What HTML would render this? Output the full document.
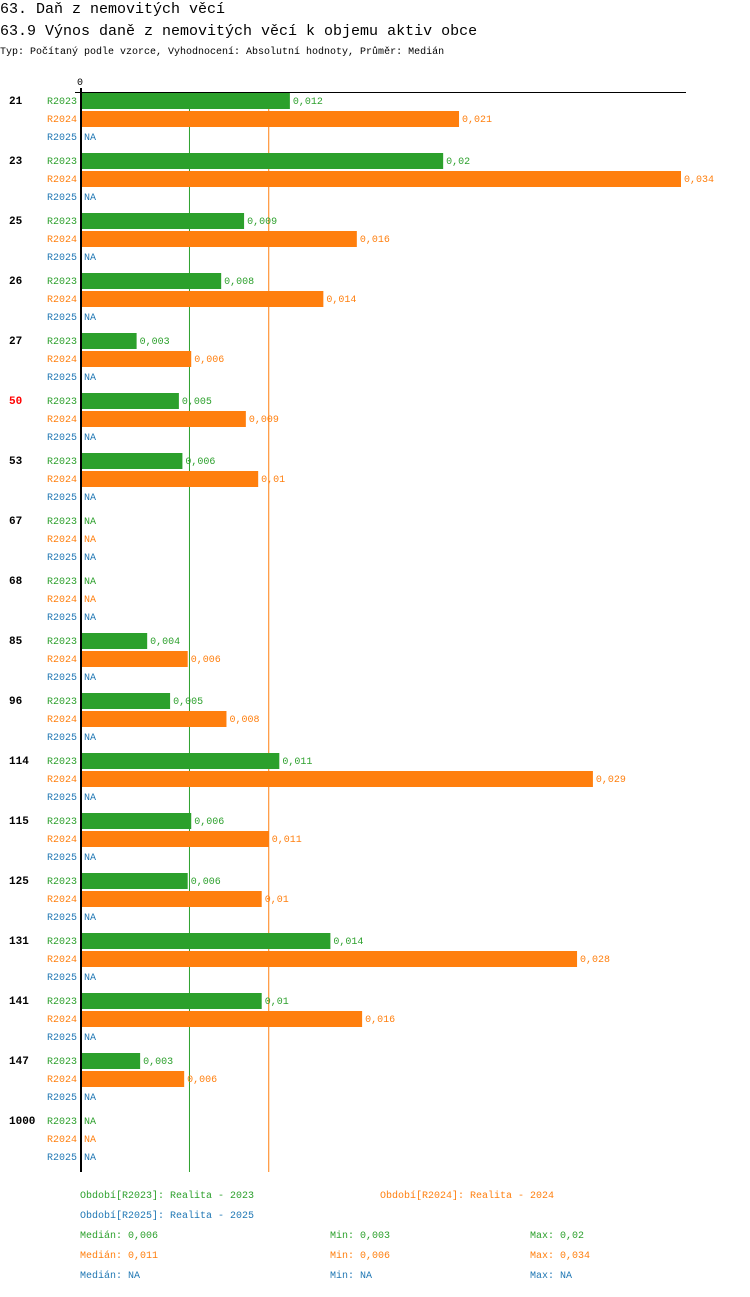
<!DOCTYPE html>
<html><head><meta charset="utf-8"><style>
body{margin:0;background:#fff;width:750px;height:1292px;overflow:hidden}
svg text{font-family:"Liberation Mono",monospace}
</style></head><body>
<svg id="c" width="750" height="1292">
<text x="0" y="13" font-size="15">63. Daň z nemovitých věcí</text>
<text x="0" y="35" font-size="15">63.9 Výnos daně z nemovitých věcí k objemu aktiv obce</text>
<text x="0" y="54" font-size="10">Typ: Počítaný podle vzorce, Vyhodnocení: Absolutní hodnoty, Průměr: Medián</text>
<text x="77" y="85" font-size="10">0</text>
<g id="g"></g>
<g font-size="10">
<text x="80" y="1198" fill="#2ca02c">Období[R2023]: Realita - 2023</text>
<text x="380" y="1198" fill="#ff7f0e">Období[R2024]: Realita - 2024</text>
<text x="80" y="1218" fill="#1f77b4">Období[R2025]: Realita - 2025</text>
<text x="80" y="1238" fill="#2ca02c">Medián: 0,006</text>
<text x="330" y="1238" fill="#2ca02c">Min: 0,003</text>
<text x="530" y="1238" fill="#2ca02c">Max: 0,02</text>
<text x="80" y="1258" fill="#ff7f0e">Medián: 0,011</text>
<text x="330" y="1258" fill="#ff7f0e">Min: 0,006</text>
<text x="530" y="1258" fill="#ff7f0e">Max: 0,034</text>
<text x="80" y="1278" fill="#1f77b4">Medián: NA</text>
<text x="330" y="1278" fill="#1f77b4">Min: NA</text>
<text x="530" y="1278" fill="#1f77b4">Max: NA</text>
</g>
</svg>
<script>
const categories=["21","23","25","26","27","50","53","67","68","85","96","114","115","125","131","141","147","1000"];
const v2023=[0.0118,0.0205,0.0092,0.0079,0.0031,0.0055,0.0057,null,null,0.0037,0.0050,0.0112,0.0062,0.0060,0.0141,0.0102,0.0033,null];
const v2024=[0.0214,0.0340,0.0156,0.0137,0.0062,0.0093,0.0100,null,null,0.0060,0.0082,0.0290,0.0106,0.0102,0.0281,0.0159,0.0058,null];
const l2023=["0,012","0,02","0,009","0,008","0,003","0,005","0,006","NA","NA","0,004","0,005","0,011","0,006","0,006","0,014","0,01","0,003","NA"];
const l2024=["0,021","0,034","0,016","0,014","0,006","0,009","0,01","NA","NA","0,006","0,008","0,029","0,011","0,01","0,028","0,016","0,006","NA"];
const medians=[0.0061,0.0106];
const highlight="50";
const NS="http://www.w3.org/2000/svg";
const g=document.getElementById('g');
const X0=82,K=(681-82)/0.034;
const x=v=>X0+v*K;
const colors=["#2ca02c","#ff7f0e","#1f77b4"];
function el(t,a){const e=document.createElementNS(NS,t);for(const k in a)e.setAttribute(k,a[k]);g.appendChild(e);return e;}
const yTop=92,gh=60,bottom=yTop+categories.length*gh;
medians.forEach((m,i)=>{
  const l=el('line',{x1:x(m),x2:x(m),y1:yTop,y2:bottom,stroke:colors[i],'stroke-width':1});
  
  
});
categories.forEach((c,i)=>{
  const y0=yTop+i*gh;
  const t=el('text',{x:9,y:y0+12,'font-size':'11','font-weight':'bold',fill:c===highlight?'#ff0000':'#000'});t.textContent=c;
  
  
  const vals=[v2023[i],v2024[i],null],labs=[l2023[i],l2024[i],"NA"],names=["R2023","R2024","R2025"];
  for(let s=0;s<3;s++){
    const ry=y0+1+s*18;
    const lt=el('text',{x:47,y:ry+11,'font-size':'10',fill:colors[s]});lt.textContent=names[s];
    
    
    let tx=X0+2;
    if(vals[s]!=null){
      const r=el('rect',{x:X0,y:ry,width:x(vals[s])-X0,height:16,fill:colors[s]});
      
      
      tx=x(vals[s])+3;
    }
    const vt=el('text',{x:tx,y:ry+11,'font-size':'10',fill:colors[s]});vt.textContent=labs[s];
    
    
  }
});
const h=el('line',{x1:75,x2:686,y1:yTop+0.5,y2:yTop+0.5,stroke:'#000','stroke-width':1});


const a=el('rect',{x:80,y:88,width:2,height:bottom-88,fill:'#000'});


</script>
</body></html>
